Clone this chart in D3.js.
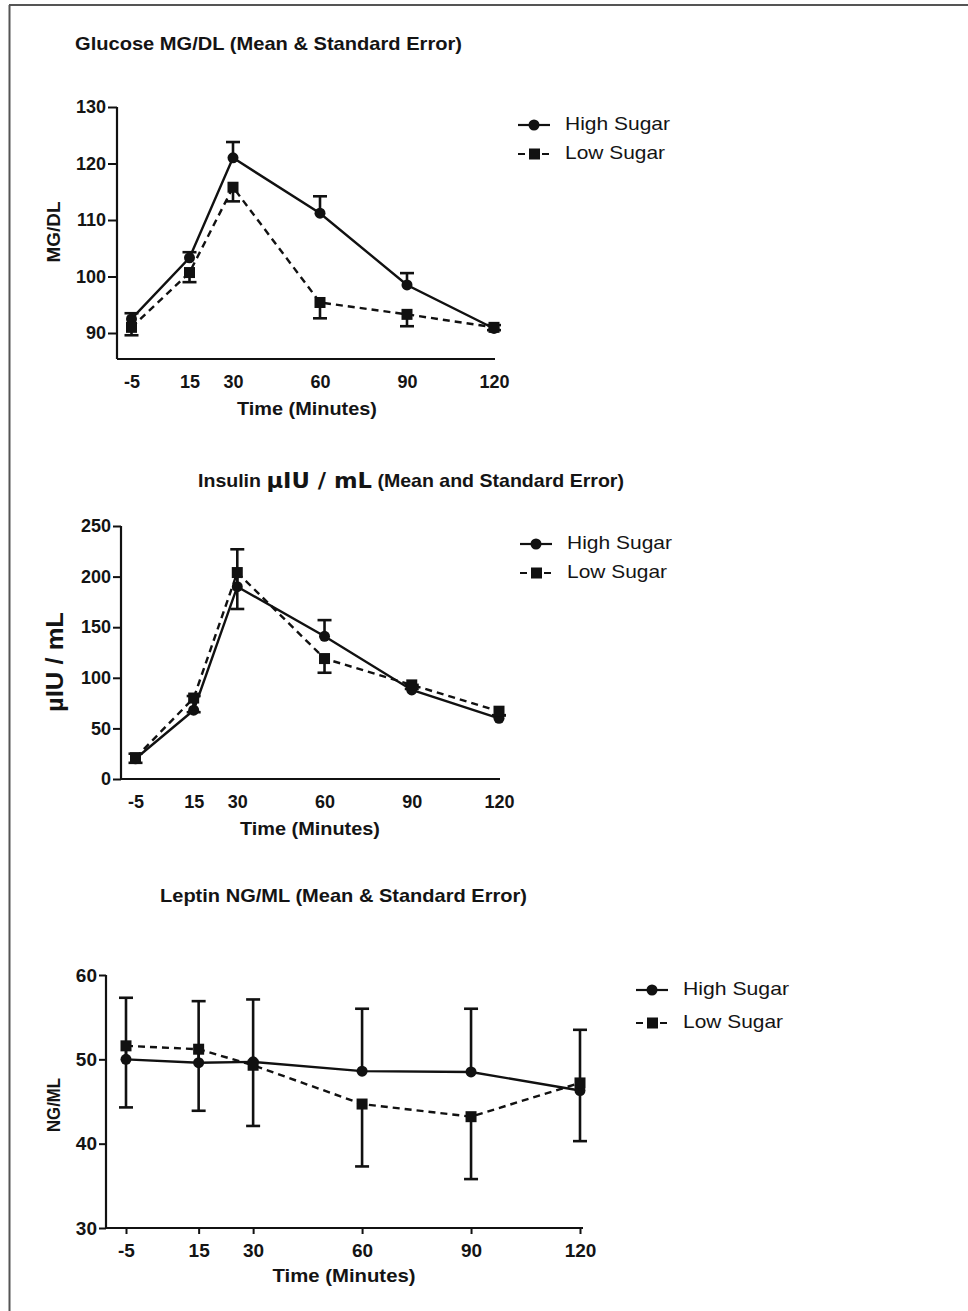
<!DOCTYPE html>
<html>
<head>
<meta charset="utf-8">
<script src="https://cdn.jsdelivr.net/npm/d3@7/dist/d3.min.js"></script>
<style>
  html, body { margin: 0; padding: 0; background: #fff; }
  svg { display: block; }
  text { font-family: "Liberation Sans", Arial, sans-serif; fill: #141414; }
</style>
</head>
<body>
<svg id="chart" width="968" height="1311"></svg>
<script>
// ---------- DATA ----------
const timePoints = [-5, 15, 30, 60, 90, 120];
const xTickLabels = ["-5", "15", "30", "60", "90", "120"];
const seriesNames = ["High Sugar", "Low Sugar"];

const glucoseHigh   = [92.5, 103.3, 121.0, 111.2, 98.5, 90.8];
const glucoseHighSE = [1.0, 1.0, 2.8, 3.0, 2.1, 0.6];
const glucoseLow    = [91.0, 100.7, 115.8, 95.4, 93.3, 91.0];
const glucoseLowSE  = [1.4, 1.7, 2.5, 2.8, 2.1, 0.5];
const glucoseYTicks = [90, 100, 110, 120, 130];

const insulinHigh   = [20, 68, 190, 141, 88, 60];
const insulinHighSE = [5, 14, 37, 16, 5, 3];
const insulinLow    = [21, 80, 204, 119, 93, 67];
const insulinLowSE  = [5, 14, 36, 14, 4, 4];
const insulinYTicks = [0, 50, 100, 150, 200, 250];

const leptinHigh   = [50.0, 49.6, 49.7, 48.6, 48.5, 46.3];
const leptinHighSE = [7.3, 7.3, 7.4, 7.4, 7.5, 7.2];
const leptinLow    = [51.6, 51.2, 49.3, 44.7, 43.2, 47.2];
const leptinLowSE  = [7.3, 7.3, 7.2, 7.4, 7.4, 6.9];
const leptinYTicks = [30, 40, 50, 60];

// ---------- DRAW ----------
const svg = d3.select("#chart");

// frame lines
svg.append("line").attr("x1", 9).attr("x2", 968).attr("y1", 5).attr("y2", 5)
  .attr("stroke", "#555").attr("stroke-width", 2);
svg.append("line").attr("x1", 9.5).attr("x2", 9.5).attr("y1", 5).attr("y2", 1311)
  .attr("stroke", "#555").attr("stroke-width", 2);

function drawPanel(p) {
  const g = svg.append("g");
  const x = d3.scaleLinear().domain([-5, 120]).range([p.xL, p.xR]);
  const y = d3.scaleLinear().domain(p.yDomain).range([p.yB, p.yT]);

  // axes
  const yAxis = d3.axisLeft(y).tickValues(p.yTicks).tickSize(p.yTickLen).tickPadding(2).tickSizeOuter(0);
  const ya = g.append("g").attr("transform", `translate(${p.axisX},0)`).call(yAxis);
  ya.select(".domain").attr("d", `M0,${y(p.yDomain[1])}V${p.axisY}`);
  ya.selectAll("line").attr("stroke", "#111").attr("stroke-width", 2);
  ya.select(".domain").attr("stroke", "#111").attr("stroke-width", 2.2);
  ya.selectAll("text").attr("font-size", p.tickFont).attr("font-weight", "bold")
    .attr("fill", "#141414").attr("font-family", "Liberation Sans, Arial, sans-serif");

  const xAxis = d3.axisBottom(x).tickValues(timePoints)
    .tickFormat((d, i) => xTickLabels[i]).tickSize(p.xTickLen).tickPadding(p.xTickPad).tickSizeOuter(0);
  const xa = g.append("g").attr("transform", `translate(0,${p.axisY})`).call(xAxis);
  xa.select(".domain").attr("d", `M${p.axisX},0H${p.xEnd}`).attr("stroke", "#111").attr("stroke-width", 2.2);
  xa.selectAll("line").attr("stroke", "#111").attr("stroke-width", 2);
  xa.selectAll("text").attr("font-size", p.tickFont).attr("font-weight", "bold")
    .attr("fill", "#141414").attr("font-family", "Liberation Sans, Arial, sans-serif");

  // titles
  const t = g.append("text").attr("x", p.titleX).attr("y", p.titleY)
    .attr("font-weight", "bold").attr("font-size", p.titleFont)
    .attr("dominant-baseline", "middle");
  p.titleParts.forEach(part => {
    t.append("tspan").text(part.text)
      .attr("font-family", part.family || "Liberation Sans, Arial, sans-serif")
      .attr("font-size", part.size || p.titleFont);
  });
  if (p.titleLen) t.attr("textLength", p.titleLen).attr("lengthAdjust", "spacingAndGlyphs");

  g.append("text").attr("x", p.xTitleX).attr("y", p.xTitleY)
    .attr("text-anchor", "middle").attr("dominant-baseline", "middle")
    .attr("font-weight", "bold").attr("font-size", p.xTitleFont)
    .attr("textLength", p.xTitleLen).attr("lengthAdjust", "spacingAndGlyphs")
    .text("Time (Minutes)");

  g.append("text").attr("transform", `translate(${p.yTitleX},${p.yTitleY}) rotate(-90)`)
    .attr("text-anchor", "middle").attr("dominant-baseline", "middle")
    .attr("font-weight", "bold").attr("font-size", p.yTitleFont)
    .attr("font-family", p.yTitleFamily || "Liberation Sans, Arial, sans-serif")
    .attr("textLength", p.yTitleLen).attr("lengthAdjust", "spacingAndGlyphs")
    .text(p.yTitle);

  const series = [
    { vals: p.high, se: p.highSE, dir: 1, dash: null, marker: "circle" },
    { vals: p.low, se: p.lowSE, dir: -1, dash: "7,5", marker: "square" }
  ];

  const line = d3.line().x((d, i) => x(timePoints[i])).y(d => y(d));

  series.forEach(s => {
    // error bars
    const eb = g.append("g");
    s.vals.forEach((v, i) => {
      const cx = x(timePoints[i]);
      const yEnd = y(v + s.dir * s.se[i]);
      eb.append("line").attr("x1", cx).attr("x2", cx).attr("y1", y(v)).attr("y2", yEnd)
        .attr("stroke", "#111").attr("stroke-width", p.ebWidth);
      eb.append("line").attr("x1", cx - p.capHalf).attr("x2", cx + p.capHalf).attr("y1", yEnd).attr("y2", yEnd)
        .attr("stroke", "#111").attr("stroke-width", p.ebWidth);
    });
    g.append("path").attr("d", line(s.vals)).attr("fill", "none")
      .attr("stroke", "#111").attr("stroke-width", 2.4)
      .attr("stroke-dasharray", s.dash);
    s.vals.forEach((v, i) => {
      const cx = x(timePoints[i]), cy = y(v);
      if (s.marker === "circle") {
        g.append("circle").attr("cx", cx).attr("cy", cy).attr("r", p.markR).attr("fill", "#111");
      } else {
        g.append("rect").attr("x", cx - p.markS / 2).attr("y", cy - p.markS / 2)
          .attr("width", p.markS).attr("height", p.markS).attr("fill", "#111");
      }
    });
  });

  // legend
  seriesNames.forEach((name, i) => {
    const ly = p.legY + i * p.legGap;
    const lg = g.append("g");
    lg.append("line").attr("x1", p.legX).attr("x2", p.legX + 32).attr("y1", ly).attr("y2", ly)
      .attr("stroke", "#111").attr("stroke-width", 2.2)
      .attr("stroke-dasharray", i === 1 ? "7,5" : null);
    if (i === 0) {
      lg.append("circle").attr("cx", p.legX + 16).attr("cy", ly).attr("r", 5.5).attr("fill", "#111");
    } else {
      lg.append("rect").attr("x", p.legX + 11).attr("y", ly - 5.5).attr("width", 11).attr("height", 11).attr("fill", "#111");
    }
    lg.append("text").attr("x", p.legX + 47).attr("y", ly).attr("dominant-baseline", "middle")
      .attr("font-size", p.legFont).attr("fill", "#222")
      .attr("textLength", p.legLen[i]).attr("lengthAdjust", "spacingAndGlyphs")
      .text(name);
  });
}

drawPanel({
  xL: 131.5, xR: 494, axisX: 117, xEnd: 495, axisY: 359,
  yDomain: [90, 130], yB: 333, yT: 107, yTicks: glucoseYTicks, yTickLen: 9,
  xTickLen: 0, xTickPad: 16, tickFont: 18,
  titleX: 75, titleY: 45, titleFont: 19, titleLen: 387,
  titleParts: [{ text: "Glucose MG/DL (Mean & Standard Error)" }],
  xTitleX: 307, xTitleY: 410, xTitleFont: 19, xTitleLen: 140,
  yTitle: "MG/DL", yTitleX: 55, yTitleY: 232, yTitleFont: 19, yTitleLen: 61,
  high: glucoseHigh, highSE: glucoseHighSE, low: glucoseLow, lowSE: glucoseLowSE,
  ebWidth: 2.6, capHalf: 7, markR: 5.5, markS: 11,
  legX: 518, legY: 125, legGap: 29, legFont: 19, legLen: [105, 100]
});

drawPanel({
  xL: 135.5, xR: 499, axisX: 121, xEnd: 500, axisY: 779,
  yDomain: [0, 250], yB: 779, yT: 526, yTicks: insulinYTicks, yTickLen: 8,
  xTickLen: 0, xTickPad: 16, tickFont: 18,
  titleX: 198, titleY: 482, titleFont: 19, titleLen: 426,
  titleParts: [
    { text: "Insulin " },
    { text: "µIU / mL", family: "DejaVu Sans, sans-serif", size: 22 },
    { text: " (Mean and Standard Error)" }
  ],
  xTitleX: 310, xTitleY: 830, xTitleFont: 19, xTitleLen: 140,
  yTitle: "µIU / mL", yTitleFamily: "DejaVu Sans, sans-serif", yTitleX: 57, yTitleY: 662, yTitleFont: 24, yTitleLen: 100,
  high: insulinHigh, highSE: insulinHighSE, low: insulinLow, lowSE: insulinLowSE,
  ebWidth: 2.6, capHalf: 7, markR: 5.5, markS: 11,
  legX: 520, legY: 544, legGap: 29, legFont: 19, legLen: [105, 100]
});

drawPanel({
  xL: 126, xR: 580, axisX: 106, xEnd: 583, axisY: 1228,
  yDomain: [30, 60], yB: 1228, yT: 975, yTicks: leptinYTicks, yTickLen: 7,
  xTickLen: 6, xTickPad: 10, tickFont: 19,
  titleX: 160, titleY: 897, titleFont: 19, titleLen: 367,
  titleParts: [{ text: "Leptin NG/ML (Mean & Standard Error)" }],
  xTitleX: 344, xTitleY: 1277, xTitleFont: 19, xTitleLen: 143,
  yTitle: "NG/ML", yTitleX: 55, yTitleY: 1105, yTitleFont: 19, yTitleLen: 54,
  high: leptinHigh, highSE: leptinHighSE, low: leptinLow, lowSE: leptinLowSE,
  ebWidth: 2.6, capHalf: 7, markR: 5.5, markS: 11,
  legX: 636, legY: 990, legGap: 33, legFont: 19, legLen: [106, 100]
});
</script>
</body>
</html>
